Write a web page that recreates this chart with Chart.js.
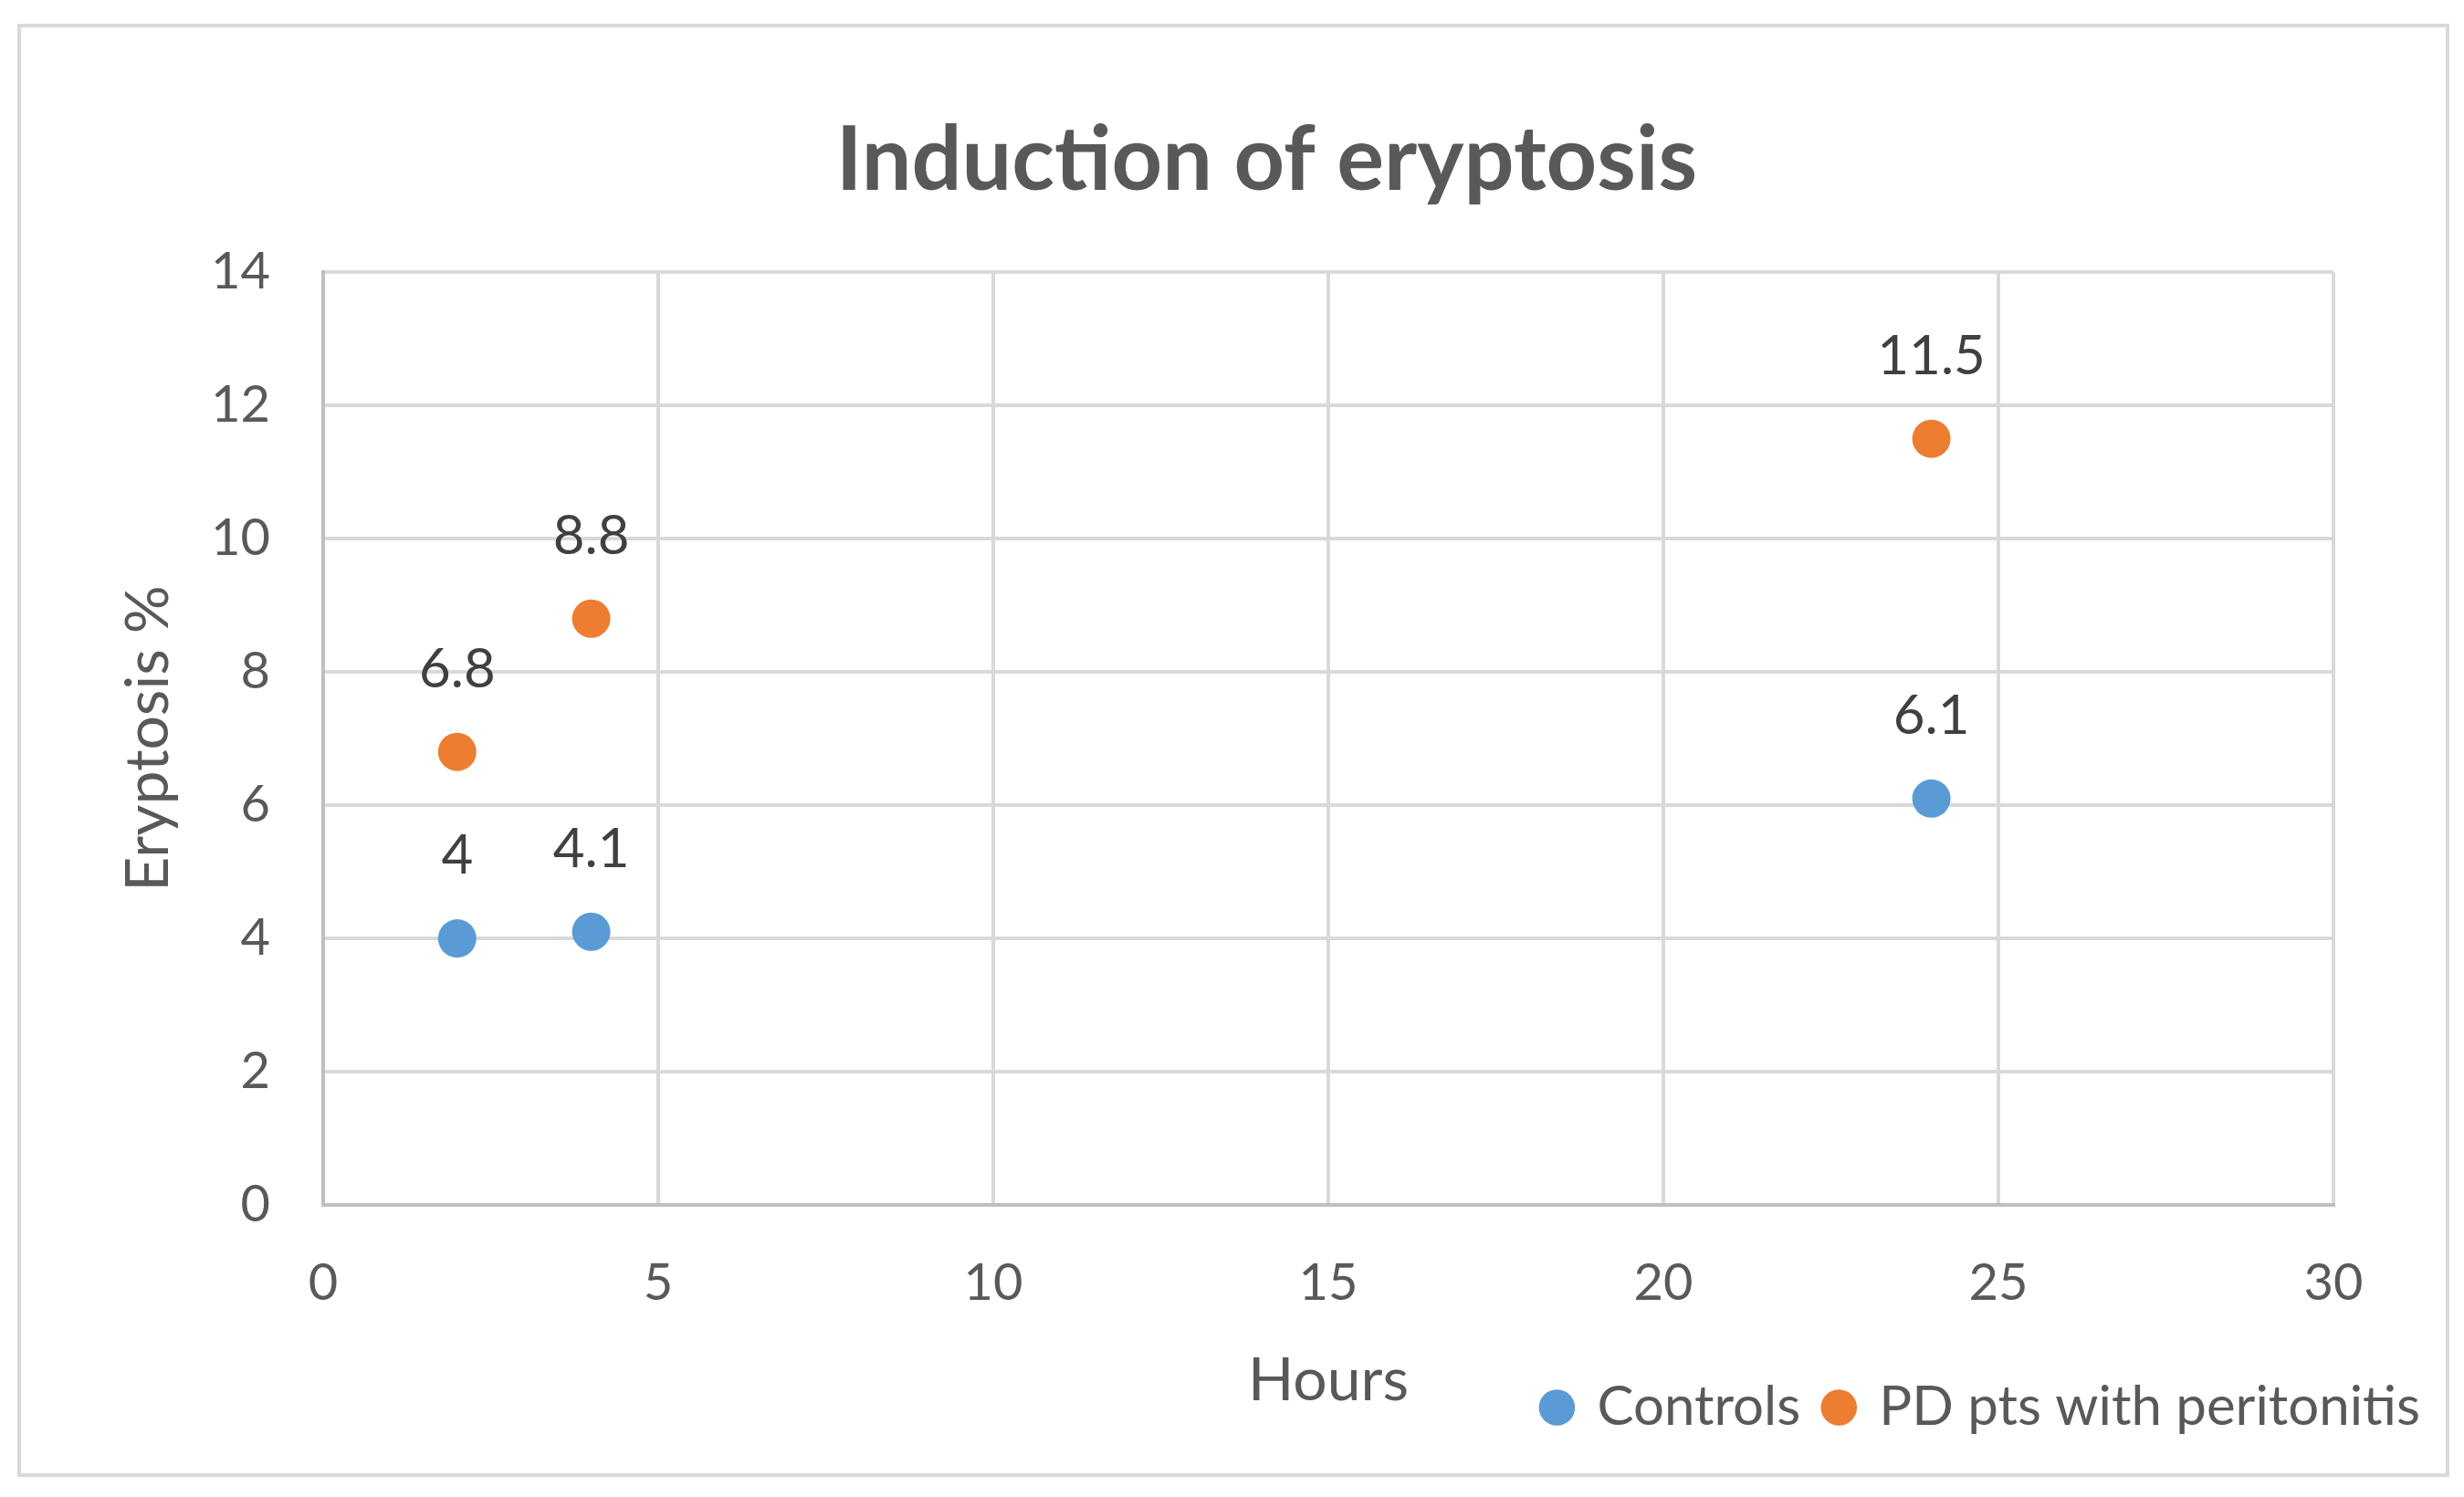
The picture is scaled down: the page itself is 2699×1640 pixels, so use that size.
<!DOCTYPE html>
<html><head><meta charset="utf-8">
<script src="https://cdn.jsdelivr.net/npm/chart.js@4"></script>
<style>html,body{margin:0;padding:0;background:#fff;overflow:hidden}canvas{display:block}</style>
</head><body>
<canvas id="c" width="2699" height="1640"></canvas>
<script>
const chartTitle = 'Induction of eryptosis';
const xAxisTitle = 'Hours';
const yAxisTitle = 'Eryptosis %';
const seriesNames = ['Controls', 'PD pts with peritonitis'];
const hours = [2, 4, 24];
const controls = [4, 4.1, 6.1];
const pdPeritonitis = [6.8, 8.8, 11.5];
const xTicks = [0, 5, 10, 15, 20, 25, 30];
const yTicks = [0, 2, 4, 6, 8, 10, 12, 14];

const FONT = 'Lato';
const GREY = '#595959';

const frame = {
  id: 'frame',
  beforeDraw(chart) {
    const {ctx} = chart;
    ctx.save();
    ctx.fillStyle = '#fff';
    ctx.fillRect(0, 0, chart.width, chart.height);
    ctx.strokeStyle = '#D9D9D9';
    ctx.lineWidth = 4;
    ctx.strokeRect(21, 28, 2660, 1588);
    ctx.restore();
  }
};

const valueLabels = {
  id: 'valueLabels',
  afterDatasetsDraw(chart) {
    const {ctx} = chart;
    ctx.save();
    ctx.font = `60px ${FONT}`;
    ctx.fillStyle = '#404040';
    ctx.textAlign = 'center';
    ctx.textBaseline = 'middle';
    chart.data.datasets.forEach((ds, i) => {
      chart.getDatasetMeta(i).data.forEach((pt, j) => {
        ctx.fillText(String(ds.data[j].y), pt.x, pt.y - 90);
      });
    });
    ctx.restore();
  }
};

const toPoints = (xs, ys) => xs.map((x, i) => ({x, y: ys[i]}));

new Chart(document.getElementById('c'), {
  type: 'scatter',
  data: {
    datasets: [
      {label: seriesNames[0], data: toPoints(hours, controls), backgroundColor: '#5B9BD5', borderColor: '#5B9BD5', borderWidth: 0, pointRadius: 21, pointHoverRadius: 21},
      {label: seriesNames[1], data: toPoints(hours, pdPeritonitis), backgroundColor: '#ED7D31', borderColor: '#ED7D31', borderWidth: 0, pointRadius: 21, pointHoverRadius: 21}
    ]
  },
  options: {
    responsive: false,
    devicePixelRatio: 1,
    animation: false,
    events: [],
    layout: {padding: {top: 30, left: 96, right: 20, bottom: 58}},
    scales: {
      x: {
        type: 'linear', position: 'bottom', min: 0, max: 30,
        afterBuildTicks: s => { s.ticks = xTicks.map(v => ({value: v})); },
        afterFit: s => { s.height = 164; },
        grid: {color: '#D9D9D9', lineWidth: 4, drawTicks: false},
        border: {color: '#BFBFBF', width: 4},
        ticks: {padding: 52, color: GREY, font: {family: FONT, size: 56}},
        title: {display: true, text: xAxisTitle, color: GREY, font: {family: FONT, size: 66}, padding: {top: 0, bottom: -68.6}}
      },
      y: {
        type: 'linear', position: 'left', min: 0, max: 14,
        afterBuildTicks: s => { s.ticks = yTicks.map(v => ({value: v})); },
        afterFit: s => { s.width = 258; },
        grid: {color: '#D9D9D9', lineWidth: 4, drawTicks: false},
        border: {color: '#BFBFBF', width: 4},
        ticks: {padding: 58, color: GREY, font: {family: FONT, size: 56}},
        title: {display: true, text: yAxisTitle, color: GREY, font: {family: FONT, size: 66}, padding: {top: 27.4, bottom: 0}}
      },
      yR: {
        type: 'linear', position: 'right', display: true,
        afterFit: s => { s.width = 123; },
        grid: {display: false, drawOnChartArea: false},
        border: {display: false},
        ticks: {display: false}
      }
    },
    plugins: {
      title: {display: true, text: chartTitle, color: GREY, font: {family: FONT, size: 97, weight: 'bold'}, padding: {top: 88.9, bottom: 62.9}},
      legend: {
        display: true, position: 'bottom', align: 'end',
        labels: {usePointStyle: true, pointStyle: 'circle', boxWidth: 28, boxHeight: 28, padding: 28, color: GREY, font: {family: FONT, size: 60}}
      },
      tooltip: {enabled: false}
    }
  },
  plugins: [frame, valueLabels]
});
</script>
</body></html>
